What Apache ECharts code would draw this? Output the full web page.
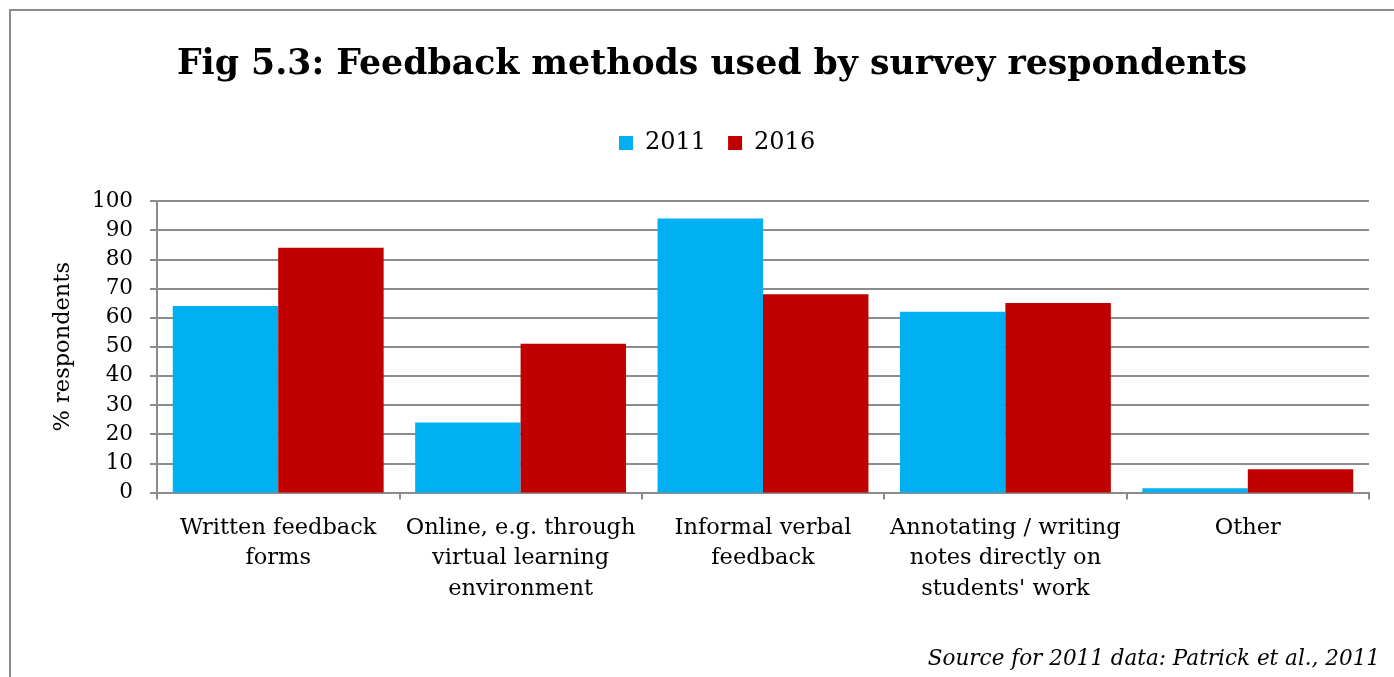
<!DOCTYPE html>
<html>
<head>
<meta charset="utf-8">
<script src="https://cdn.jsdelivr.net/npm/echarts@6/dist/echarts.min.js"></script>
<style>
  html, body { margin: 0; padding: 0; background: #fff; }
  #chart { width: 1394px; height: 677px; }
</style>
</head>
<body>
<div id="chart"></div>
<script>
// Feedback methods, share of survey respondents (%)
const categories = [
  'Written feedback\nforms',
  'Online, e.g. through\nvirtual learning\nenvironment',
  'Informal verbal\nfeedback',
  'Annotating / writing\nnotes directly on\nstudents\' work',
  'Other'
];
const values2011 = [64, 24, 94, 62, 1.5];
const values2016 = [84, 51, 68, 65, 8];
const yTicks = { min: 0, max: 100, interval: 10 };

const serif = '"DejaVu Serif", "Liberation Serif", serif';
const grey = '#8c8c8c';

const chart = echarts.init(document.getElementById('chart'), null, { renderer: 'canvas' });
chart.setOption({
  backgroundColor: '#fff',
  animation: false,
  graphic: [
    {
      type: 'rect',
      shape: { x: 10, y: 10, width: 1500, height: 800 },
      style: { fill: 'none', stroke: grey, lineWidth: 2 },
      silent: true
    },
    {
      type: 'text',
      x: 1380, y: 659,
      style: {
        text: 'Source for 2011 data: Patrick et al., 2011',
        font: 'italic 21.5px ' + serif,
        fill: '#000',
        align: 'right',
        verticalAlign: 'middle'
      }
    }
  ],
  title: {
    text: 'Fig 5.3: Feedback methods used by survey respondents',
    left: 707, top: 42, textAlign: 'center',
    textStyle: { fontFamily: serif, fontWeight: 'bold', fontSize: 34.7, color: '#000' }
  },
  legend: {
    top: 126, left: 614,
    itemWidth: 14, itemHeight: 14, itemGap: 22,
    icon: 'rect',
    textStyle: { fontFamily: serif, fontSize: 24, color: '#000', padding: [0, 0, 0, 7] },
    data: ['2011', '2016']
  },
  grid: { left: 157, right: 25, top: 201, bottom: 184.5, containLabel: false },
  xAxis: {
    type: 'category',
    data: categories,
    boundaryGap: true,
    axisLine: { lineStyle: { color: grey, width: 2 } },
    axisTick: { show: true, length: 7, lineStyle: { color: grey, width: 2 } },
    axisLabel: {
      interval: 0, margin: 20, lineHeight: 30.5,
      fontFamily: serif, fontSize: 22.5, color: '#000', align: 'center'
    }
  },
  yAxis: {
    type: 'value',
    min: yTicks.min, max: yTicks.max, interval: yTicks.interval,
    name: '% respondents',
    nameLocation: 'middle', nameGap: 82, nameRotate: 90,
    nameTextStyle: { fontFamily: serif, fontSize: 22.5, color: '#000' },
    axisLine: { show: true, lineStyle: { color: grey, width: 2 } },
    axisTick: { show: true, length: 7, lineStyle: { color: grey, width: 2 } },
    axisLabel: { margin: 24, fontFamily: serif, fontSize: 21.5, color: '#000' },
    splitLine: { lineStyle: { color: grey, width: 2 } }
  },
  series: [
    {
      name: '2011', type: 'bar', data: values2011,
      itemStyle: { color: '#00b0f0' },
      barGap: '0%', barCategoryGap: '13%'
    },
    {
      name: '2016', type: 'bar', data: values2016,
      itemStyle: { color: '#c00000' },
      barGap: '0%', barCategoryGap: '13%'
    }
  ]
});
</script>
</body>
</html>
